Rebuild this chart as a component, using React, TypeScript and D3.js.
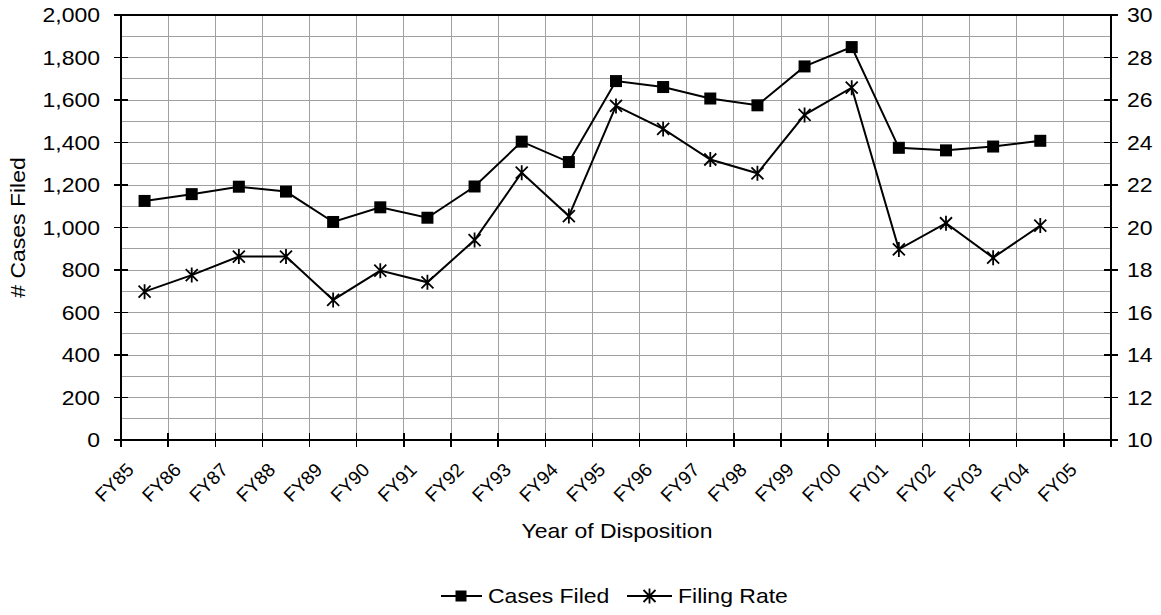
import React from "react";
import * as d3 from "d3";

// fiscal years on the category axis (FY05 has no data yet)
const years = [
  "FY85", "FY86", "FY87", "FY88", "FY89", "FY90", "FY91", "FY92", "FY93", "FY94",
  "FY95", "FY96", "FY97", "FY98", "FY99", "FY00", "FY01", "FY02", "FY03", "FY04", "FY05",
];
const casesFiled = [
  1125, 1157, 1192, 1169, 1026, 1095, 1046, 1193, 1404, 1308,
  1689, 1661, 1607, 1575, 1758, 1849, 1375, 1363, 1381, 1408,
];
const filingRate = [
  16.98, 17.76, 18.63, 18.63, 16.59, 17.97, 17.42, 19.41, 22.58, 20.54,
  25.72, 24.64, 23.2, 22.55, 25.3, 26.58, 18.97, 20.2, 18.58, 20.09,
];
const leftTicks = [0, 200, 400, 600, 800, 1000, 1200, 1400, 1600, 1800, 2000];
const rightTicks = [10, 12, 14, 16, 18, 20, 22, 24, 26, 28, 30];
const gridSteps = d3.range(0, 2001, 100);

const W = 1161;
const H = 615;
const left = 121, right = 1111, top = 15, bottom = 440;
const font = "'Liberation Sans', Arial, sans-serif";

const x = d3.scaleBand().domain(years).range([left, right]);
const yL = d3.scaleLinear().domain([0, 2000]).range([bottom, top]);
const yR = d3.scaleLinear().domain([10, 30]).range([bottom, top]);
const fmt = d3.format(",");

const cx = (i) => x(years[i])! + x.bandwidth() / 2;

const casesLine = d3.line<number>().x((d, i) => cx(i)).y((d) => yL(d));
const rateLine = d3.line<number>().x((d, i) => cx(i)).y((d) => yR(d));

const star = "M-6,-6L6,6M-6,6L6,-6M0,-7.5L0,7.5";

// text is a bit wide in the source picture, so stretch it along its baseline
const T = ({ tf, anchor = "start", size = 20, sx = 1.15, children }) => (
  <text
    transform={tf + ` scale(${sx},1)`}
    textAnchor={anchor}
    fontFamily={font}
    fontSize={size}
    fill="#000"
  >
    {children}
  </text>
);

export default function App() {
  const bounds = years.map((y) => x(y)!).concat([right]);
  return (
    <svg
      width={W}
      height={H}
      style={{ position: "absolute", left: 0, top: 0, background: "#fff" }}
    >
      {/* grid */}
      <g stroke="#a0a0a0" strokeWidth={1} shapeRendering="crispEdges">
        {gridSteps.map((v) => (
          <line key={"h" + v} x1={left} x2={right} y1={yL(v)} y2={yL(v)} />
        ))}
        {bounds.map((b, i) => (
          <line key={"v" + i} x1={b} x2={b} y1={top} y2={bottom} />
        ))}
      </g>

      {/* frame + axes */}
      <g stroke="#000" strokeWidth={1.5} shapeRendering="crispEdges">
        <line x1={left} x2={right} y1={top} y2={top} />
        <line x1={left} x2={left} y1={top} y2={bottom} />
        <line x1={right} x2={right} y1={top} y2={bottom} />
        <line x1={left} x2={right} y1={bottom} y2={bottom} />
        {leftTicks.map((v) => (
          <line key={"lt" + v} x1={left - 7} x2={left + 7} y1={yL(v)} y2={yL(v)} />
        ))}
        {rightTicks.map((v) => (
          <line key={"rt" + v} x1={right - 7} x2={right + 7} y1={yR(v)} y2={yR(v)} />
        ))}
        {bounds.map((b, i) => (
          <line key={"xt" + i} x1={b} x2={b} y1={bottom - 7} y2={bottom + 7} />
        ))}
      </g>

      {/* tick labels */}
      {leftTicks.map((v) => (
        <T key={"ll" + v} tf={`translate(${left - 21},${yL(v) + 7})`} anchor="end">
          {fmt(v)}
        </T>
      ))}
      {rightTicks.map((v) => (
        <T key={"rl" + v} tf={`translate(${right + 16},${yR(v) + 7})`}>
          {v}
        </T>
      ))}
      {years.map((y) => (
        <T
          key={"xl" + y}
          tf={`translate(${x(y)! + 14},471) rotate(-45)`}
          anchor="end"
          size={19}
          sx={1}
        >
          {y}
        </T>
      ))}

      {/* axis titles */}
      <T tf={`translate(25,${(top + bottom) / 2}) rotate(-90)`} anchor="middle">
        # Cases Filed
      </T>
      <T tf={`translate(${(left + right) / 2 + 1},538)`} anchor="middle">
        Year of Disposition
      </T>

      {/* series */}
      <path d={casesLine(casesFiled)!} fill="none" stroke="#000" strokeWidth={2} />
      <path d={rateLine(filingRate)!} fill="none" stroke="#000" strokeWidth={2} />
      {casesFiled.map((v, i) => (
        <rect key={"sq" + i} x={cx(i) - 6} y={yL(v) - 6} width={12} height={12} fill="#000" />
      ))}
      {filingRate.map((v, i) => (
        <path
          key={"st" + i}
          d={star}
          transform={`translate(${cx(i)},${yR(v)})`}
          stroke="#000"
          strokeWidth={1.8}
          fill="none"
        />
      ))}

      {/* legend */}
      <g>
        <line x1={441} x2={482} y1={596} y2={596} stroke="#000" strokeWidth={2} />
        <rect x={455.5} y={590.5} width={11} height={11} fill="#000" />
        <T tf="translate(488,603)">Cases Filed</T>
        <line x1={627} x2={672} y1={596} y2={596} stroke="#000" strokeWidth={2} />
        <path d={star} transform="translate(649.5,596)" stroke="#000" strokeWidth={1.8} fill="none" />
        <T tf="translate(678,603)">Filing Rate</T>
      </g>
    </svg>
  );
}
